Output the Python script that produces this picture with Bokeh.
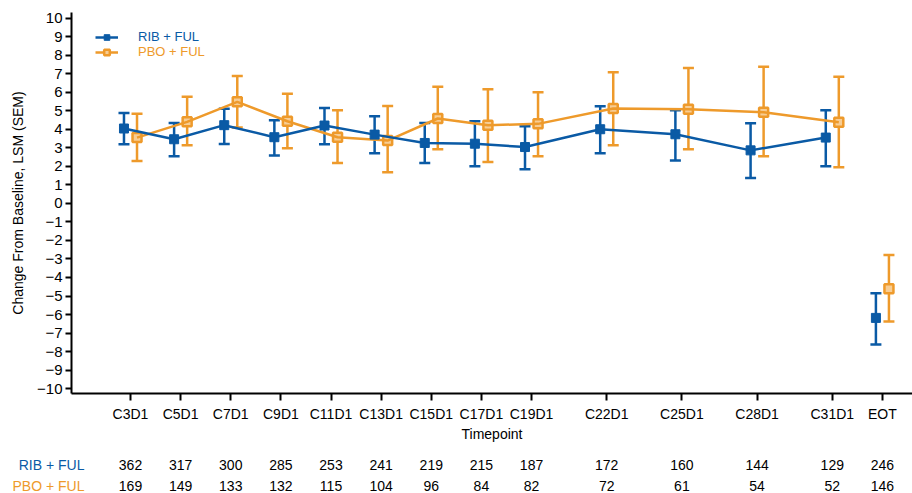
from bokeh.plotting import figure
from bokeh.layouts import column
from bokeh.models import (ColumnDataSource, Whisker, TeeHead, FixedTicker, Legend,
                          LegendItem, Range1d)
from bokeh.core.properties import value
from bokeh.embed import file_html
from bokeh.resources import INLINE

# ---------------- data ----------------
timepoints = ["C3D1", "C5D1", "C7D1", "C9D1", "C11D1", "C13D1", "C15D1", "C17D1",
              "C19D1", "C22D1", "C25D1", "C28D1", "C31D1", "EOT"]
cycle_pos = [3, 5, 7, 9, 11, 13, 15, 17, 19, 22, 25, 28, 31, 33]

rib_mean = [4.04, 3.46, 4.22, 3.57, 4.20, 3.71, 3.26, 3.22, 3.04, 4.00, 3.73, 2.86, 3.55, -6.18]
rib_upper = [4.88, 4.34, 5.10, 4.49, 5.14, 4.70, 4.34, 4.43, 4.16, 5.24, 5.03, 4.32, 5.03, -4.85]
rib_lower = [3.19, 2.54, 3.21, 2.59, 3.19, 2.70, 2.18, 2.00, 1.84, 2.70, 2.32, 1.37, 2.00, -7.62]

pbo_mean = [3.55, 4.40, 5.48, 4.43, 3.57, 3.39, 4.58, 4.22, 4.29, 5.12, 5.08, 4.92, 4.38, -4.61]
pbo_upper = [4.83, 5.75, 6.88, 5.91, 5.03, 5.26, 6.29, 6.16, 6.00, 7.08, 7.30, 7.37, 6.83, -2.79]
pbo_lower = [2.29, 3.14, 4.10, 2.97, 2.18, 1.68, 2.92, 2.23, 2.54, 3.14, 2.92, 2.54, 1.95, -6.38]

rib_n = [362, 317, 300, 285, 253, 241, 219, 215, 187, 172, 160, 144, 129, 246]
pbo_n = [169, 149, 133, 132, 115, 104, 96, 84, 82, 72, 61, 54, 52, 146]

y_ticks = list(range(-10, 11))

# ---------------- styling ----------------
BLUE = "#0A5AA5"
ORANGE = "#EE9A2B"
ORANGE_FILL = "#F7CD94"
FONT = "Liberation Sans"
DODGE = 0.26
X0, X1 = 0.646, 34.2
LEFT = 71
WIDTH = 912

n_line = len(cycle_pos) - 1   # EOT is not joined to the cycle curve

rib_src = ColumnDataSource(dict(x=[c - DODGE for c in cycle_pos], y=rib_mean,
                                lo=rib_lower, hi=rib_upper))
pbo_src = ColumnDataSource(dict(x=[c + DODGE for c in cycle_pos], y=pbo_mean,
                                lo=pbo_lower, hi=pbo_upper))
rib_line_src = ColumnDataSource(dict(x=[c - DODGE for c in cycle_pos[:n_line]], y=rib_mean[:n_line]))
pbo_line_src = ColumnDataSource(dict(x=[c + DODGE for c in cycle_pos[:n_line]], y=pbo_mean[:n_line]))

p = figure(width=WIDTH, height=448, output_backend="svg", toolbar_location=None,
           x_range=Range1d(X0, X1), y_range=Range1d(-10.26, 10.3),
           min_border_left=LEFT, min_border_right=0, min_border_top=12, min_border_bottom=55)
p.outline_line_color = None
p.xgrid.visible = False
p.ygrid.visible = False
p.frame_align = False

# series
pbo_sc = p.scatter("x", "y", source=pbo_src, marker="square", size=9,
                   fill_color=ORANGE_FILL, line_color=ORANGE, line_width=2.5)
pbo_ln = p.line("x", "y", source=pbo_line_src, line_color=ORANGE, line_width=2.5)
rib_ln = p.line("x", "y", source=rib_line_src, line_color=BLUE, line_width=2.5)
rib_sc = p.scatter("x", "y", source=rib_src, marker="square", size=9,
                   fill_color=BLUE, line_color=BLUE, line_width=1)

for src, col in ((pbo_src, ORANGE), (rib_src, BLUE)):
    w = Whisker(base="x", lower="lo", upper="hi", source=src,
                line_color=col, line_width=2.5,
                upper_head=TeeHead(size=11, line_color=col, line_width=2.5),
                lower_head=TeeHead(size=11, line_color=col, line_width=2.5))
    p.add_layout(w)

# axes
xa = p.xaxis[0]
xa.ticker = FixedTicker(ticks=cycle_pos)
xa.major_label_overrides = {c: t for c, t in zip(cycle_pos, timepoints)}
xa.axis_label = "Timepoint"
xa.axis_label_text_font_style = "normal"
xa.axis_label_text_font = FONT
xa.axis_label_text_font_size = "14px"
xa.axis_label_standoff = 1
xa.major_label_text_font = FONT
xa.major_label_text_font_size = "14px"
xa.major_label_standoff = 5
xa.major_tick_out = 7
xa.major_tick_in = 0
xa.minor_tick_line_color = None
xa.axis_line_width = 2
xa.major_tick_line_width = 2
xa.axis_line_color = "black"
xa.major_tick_line_color = "black"
xa.major_label_text_color = "black"
xa.axis_label_text_color = "black"

ya = p.yaxis[0]
ya.ticker = FixedTicker(ticks=y_ticks)
ya.major_label_overrides = {v: (str(v).replace("-", "\u2212")) for v in y_ticks}
ya.axis_label = "Change From Baseline, LSM (SEM)"
ya.axis_label_text_font_style = "normal"
ya.axis_label_text_font = FONT
ya.axis_label_text_font_size = "14px"
ya.axis_label_standoff = 8
ya.major_label_text_font = FONT
ya.major_label_text_font_size = "15px"
ya.major_label_standoff = 3
ya.major_tick_out = 6
ya.major_tick_in = 0
ya.minor_tick_line_color = None
ya.axis_line_width = 2
ya.major_tick_line_width = 2
ya.axis_line_color = "black"
ya.major_tick_line_color = "black"
ya.major_label_text_color = "black"
ya.axis_label_text_color = "black"

# legends (two, for coloured labels)
for name, rends, col, yloc in (("RIB + FUL", [rib_ln, rib_sc], BLUE, 349),
                               ("PBO + FUL", [pbo_ln, pbo_sc], ORANGE, 334)):
    lg = Legend(items=[LegendItem(label=name, renderers=rends)], location=(24, yloc),
                padding=0, margin=0, spacing=0, border_line_color=None,
                background_fill_alpha=0, glyph_width=23, glyph_height=14,
                label_standoff=20, label_text_color=col, label_text_font=FONT,
                label_text_font_size="13px", label_height=14)
    p.add_layout(lg, "center")

# ---------------- N table (second figure, same x scale) ----------------
scale = (X1 - X0) / (WIDTH - LEFT)          # data units per pixel in the main plot
tx0 = X0 - LEFT * scale                     # table frame spans the full width
t = figure(width=WIDTH, height=45, output_backend="svg", toolbar_location=None,
           x_range=Range1d(tx0, X1), y_range=Range1d(0, 45),
           min_border=0, min_border_left=0, min_border_right=0,
           min_border_top=0, min_border_bottom=0)
t.axis.visible = False
t.grid.visible = False
t.outline_line_color = None
t.frame_align = False

row_label_x = X0 + 13 * scale
for n_vals, col, name, yrow in ((rib_n, BLUE, "RIB + FUL", 29), (pbo_n, ORANGE, "PBO + FUL", 8)):
    src = ColumnDataSource(dict(x=cycle_pos, t=[str(v) for v in n_vals]))
    t.text(x="x", y=yrow, text="t", source=src, text_align="center", text_baseline="middle",
           text_font=value(FONT), text_font_size="14px", text_color="black")
    t.text(x=[row_label_x], y=[yrow], text=[name], text_align="right", text_baseline="middle",
           text_font=value(FONT), text_font_size="14px", text_color=col)

layout = column(p, t, spacing=0)
open("out.html", "w").write(file_html(layout, INLINE))
